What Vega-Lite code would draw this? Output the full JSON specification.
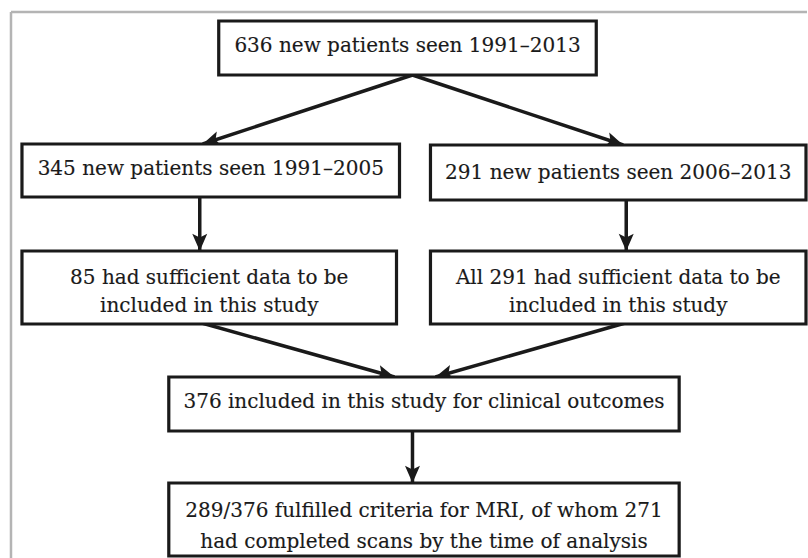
{
  "$schema": "https://vega.github.io/schema/vega-lite/v6.json",
  "width": 808,
  "height": 558,
  "autosize": {"type": "fit", "contains": "padding"},
  "padding": 0,
  "background": "white",
  "config": {"view": {"stroke": null}},
  "datasets": {
    "frame": [
      {"x": 11, "y": 12, "x2": 11, "y2": 560},
      {"x": 11, "y": 12, "x2": 810, "y2": 12}
    ],
    "arrows": [
      {"x": 413, "y": 75, "x2": 203, "y2": 144},
      {"x": 413, "y": 75, "x2": 624, "y2": 145},
      {"x": 200, "y": 197, "x2": 200, "y2": 251},
      {"x": 627, "y": 200, "x2": 627, "y2": 251},
      {"x": 202, "y": 323, "x2": 395, "y2": 377},
      {"x": 626, "y": 323, "x2": 436, "y2": 377},
      {"x": 413, "y": 431, "x2": 413, "y2": 483}
    ],
    "boxes": [
      {"x": 219, "x2": 597, "y": 21, "y2": 75},
      {"x": 22, "x2": 400, "y": 144, "y2": 197},
      {"x": 431, "x2": 807, "y": 145, "y2": 200},
      {"x": 22, "x2": 397, "y": 251, "y2": 324},
      {"x": 431, "x2": 807, "y": 251, "y2": 324},
      {"x": 169, "x2": 680, "y": 377, "y2": 431},
      {"x": 169, "x2": 680, "y": 483, "y2": 556}
    ],
    "lines": [
      {"x": 408, "y": 45.5, "text": "636 new patients seen 1991–2013"},
      {"x": 211, "y": 169, "text": "345 new patients seen 1991–2005"},
      {"x": 619, "y": 172.5, "text": "291 new patients seen 2006–2013"},
      {"x": 209.5, "y": 278, "text": "85 had sufficient data to be"},
      {"x": 209.5, "y": 306, "text": "included in this study"},
      {"x": 619, "y": 278, "text": "All 291 had sufficient data to be"},
      {"x": 619, "y": 306, "text": "included in this study"},
      {"x": 424.5, "y": 402, "text": "376 included in this study for clinical outcomes"},
      {"x": 424.5, "y": 510.5, "text": "289/376 fulfilled criteria for MRI, of whom 271"},
      {"x": 424.5, "y": 542, "text": "had completed scans by the time of analysis"}
    ]
  },
  "layer": [
    {
      "data": {"name": "frame"},
      "mark": {"type": "rule", "color": "#b4b4b4", "strokeWidth": 2.5, "clip": true},
      "encoding": {
        "x": {"field": "x", "type": "quantitative", "scale": {"domain": [0, 808], "nice": false, "zero": false}, "axis": null},
        "y": {"field": "y", "type": "quantitative", "scale": {"domain": [0, 558], "nice": false, "zero": false, "reverse": true}, "axis": null},
        "x2": {"field": "x2"},
        "y2": {"field": "y2"}
      }
    },
    {
      "data": {"name": "arrows"},
      "mark": {"type": "rule", "color": "#1a1a1a", "strokeWidth": 3.5},
      "encoding": {
        "x": {"field": "x", "type": "quantitative"},
        "y": {"field": "y", "type": "quantitative"},
        "x2": {"field": "x2"},
        "y2": {"field": "y2"}
      }
    },
    {
      "data": {"name": "arrows"},
      "transform": [
        {"calculate": "atan2(-(datum.x2 - datum.x), datum.y2 - datum.y) * 180 / PI", "as": "ang"}
      ],
      "mark": {
        "type": "point",
        "shape": "M0,0 L-1,-2.3 L0,-1.8 L1,-2.3 Z",
        "size": 225,
        "filled": true,
        "color": "#1a1a1a",
        "opacity": 1,
        "strokeWidth": 0
      },
      "encoding": {
        "x": {"field": "x2", "type": "quantitative"},
        "y": {"field": "y2", "type": "quantitative"},
        "angle": {"field": "ang", "type": "quantitative", "scale": null}
      }
    },
    {
      "data": {"name": "boxes"},
      "mark": {"type": "rect", "fill": "white", "stroke": "#1a1a1a", "strokeWidth": 3.2},
      "encoding": {
        "x": {"field": "x", "type": "quantitative"},
        "x2": {"field": "x2"},
        "y": {"field": "y", "type": "quantitative"},
        "y2": {"field": "y2"}
      }
    },
    {
      "data": {"name": "lines"},
      "mark": {
        "type": "text",
        "font": "DejaVu Serif",
        "fontSize": 20,
        "align": "center",
        "baseline": "middle",
        "color": "#1a1a1a",
        "stroke": "#1a1a1a",
        "strokeWidth": 0.15
      },
      "encoding": {
        "x": {"field": "x", "type": "quantitative"},
        "y": {"field": "y", "type": "quantitative"},
        "text": {"field": "text"}
      }
    }
  ]
}
